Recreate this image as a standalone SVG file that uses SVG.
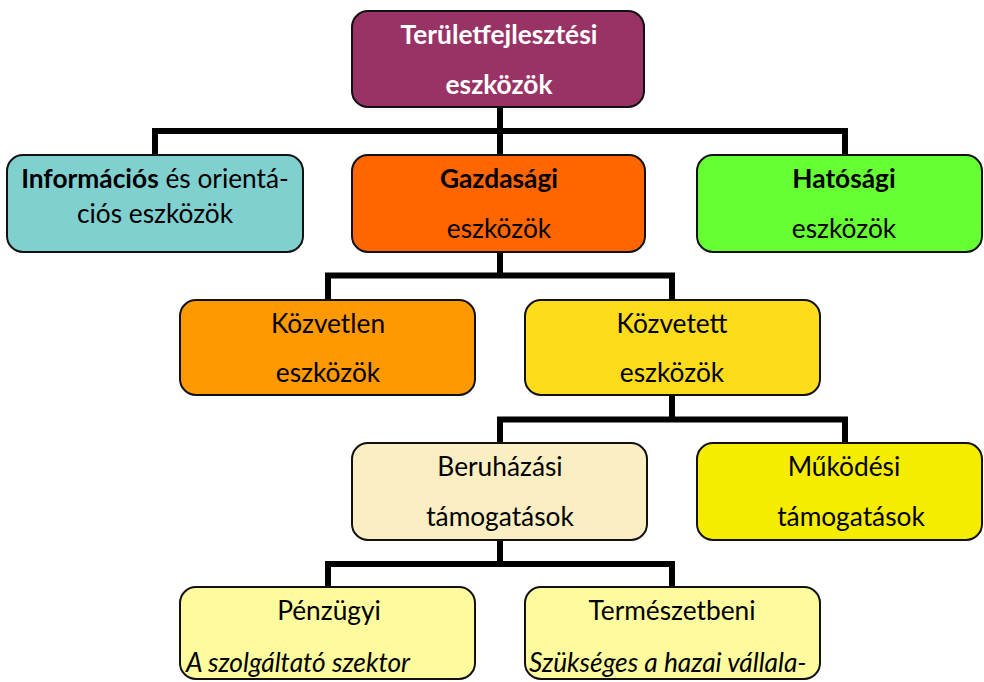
<svg xmlns="http://www.w3.org/2000/svg" width="984" height="682" viewBox="0 0 984 682">
<style>
.box{stroke:#111;stroke-width:2}
text{font-family:Lato,"Liberation Sans",sans-serif;font-size:26.3px;fill:#000;text-anchor:middle}
.b{font-weight:bold}
.w{fill:#fff}
.i{font-style:italic;text-anchor:start}
.conn{fill:none;stroke:#000;stroke-width:6;stroke-linejoin:miter}
</style>
<rect width="984" height="682" fill="#fff"/>
<g id="connectors" class="conn">
<path d="M500 107V131M155 158V131H845V158M500 131V155"/>
<path d="M500 252V275.5M328 300V275.5H672V300"/>
<path d="M672 395V419.5M500 443V419.5H845V443"/>
<path d="M500 540V564M328 587V564H672V587"/>
</g>
<g id="n-top">
<rect class="box" x="352" y="11" width="292" height="96" rx="16" fill="#993366"/>
<text class="b w" x="499" y="44">Területfejlesztési</text>
<text class="b w" x="499" y="94">eszközök</text>
</g>
<g id="n-info">
<rect class="box" x="7" y="155" width="296" height="97" rx="16" fill="#80D0D0"/>
<text x="155" y="188"><tspan class="b">Információs</tspan> és orientá-</text>
<text x="155" y="223">ciós eszközök</text>
</g>
<g id="n-gazd">
<rect class="box" x="352" y="155" width="293" height="97" rx="16" fill="#FF6600"/>
<text class="b" x="499" y="188">Gazdasági</text>
<text x="499" y="238">eszközök</text>
</g>
<g id="n-hat">
<rect class="box" x="697" y="155" width="285" height="97" rx="16" fill="#66FF33"/>
<text class="b" x="844" y="188">Hatósági</text>
<text x="844" y="238">eszközök</text>
</g>
<g id="n-kozvetlen">
<rect class="box" x="180" y="300" width="295" height="95" rx="16" fill="#FF9900"/>
<text x="328" y="333">Közvetlen</text>
<text x="328" y="382">eszközök</text>
</g>
<g id="n-kozvetett">
<rect class="box" x="525" y="300" width="295" height="95" rx="16" fill="#FDDC1C"/>
<text x="672" y="333">Közvetett</text>
<text x="672" y="382">eszközök</text>
</g>
<g id="n-beruh">
<rect class="box" x="352" y="443" width="295" height="97" rx="16" fill="#FAEEC2"/>
<text x="500" y="476">Beruházási</text>
<text x="500" y="526">támogatások</text>
</g>
<g id="n-mukodesi">
<rect class="box" x="697" y="443" width="285" height="97" rx="16" fill="#F5EC00"/>
<text x="844" y="476">Működési</text>
<text x="851" y="526">támogatások</text>
</g>
<g id="n-penz">
<rect class="box" x="180" y="587" width="295" height="92" rx="16" fill="#FEFB9E"/>
<text x="329" y="620">Pénzügyi</text>
<text class="i" x="186" y="672">A szolgáltató szektor</text>
</g>
<g id="n-term">
<rect class="box" x="525" y="587" width="295" height="92" rx="16" fill="#FEFB9E"/>
<text x="672" y="620">Természetbeni</text>
<text class="i" x="529" y="672">Szükséges a hazai vállala-</text>
</g>
</svg>
